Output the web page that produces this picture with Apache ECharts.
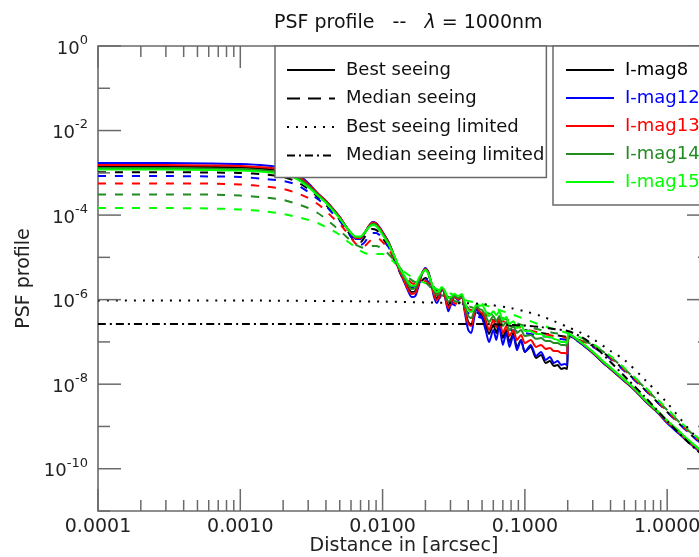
<!DOCTYPE html>
<html><head><meta charset="utf-8">
<script src="https://cdn.jsdelivr.net/npm/echarts/dist/echarts.min.js"></script>
<style>html,body{margin:0;padding:0;background:#fff;overflow:hidden}#c{width:699px;height:557px}</style>
</head><body><div id="c"></div>
<script>
// ---- data (distance in arcsec, PSF profile values) ----
const xBest = [0.0001,0.0003,0.0006,0.001,0.0015,0.002,0.0025,0.003,0.0035,0.004,0.0045,0.005,0.0055,0.006,0.0065,0.007,0.0075,0.008,0.0085,0.009,0.0095,0.010,
0.011,0.012,0.013,0.014,0.015,0.016,0.017,0.018,0.019,0.020,0.021,0.022,0.023,0.024,0.025,0.026,0.027,0.028,0.029,0.030,
0.032,0.034,0.036,0.038,0.040,0.042,0.044,0.046,0.048,0.050,
0.053,0.056,0.060,0.063,0.066,0.070,0.074,0.078,0.083,0.088,0.094,0.100,
0.11,0.12,0.13,0.14,0.15,0.16,0.17,0.18,0.19,0.198,0.202,
0.22,0.25,0.3,0.35,0.4,0.5,0.6,0.7,0.85,1.0,1.2,1.4,1.7,2.0];

const bestMag8 = [1.41e-3,1.41e-3,1.37e-3,1.33e-3,1.23e-3,1.10e-3,8.2e-4,5.3e-4,3.16e-4,2.10e-4,
1.36e-4,8.8e-5,5.5e-5,3.78e-5,2.96e-5,2.96e-5,3.88e-5,5.4e-5,6.5e-5,6.2e-5,
4.96e-5,3.78e-5,2.3e-5,1.14e-5,5.6e-6,3.25e-6,1.99e-6,1.51e-6,1.60e-6,2.61e-6,
4.26e-6,5.3e-6,4.26e-6,2.47e-6,1.43e-6,1.09e-6,1.28e-6,1.88e-6,1.60e-6,9.8e-7,
7.1e-7,8.8e-7,1.22e-6,1.03e-6,1.22e-6,5.7e-7,2.96e-7,2.51e-7,4.57e-7,6.7e-7,
5.1e-7,4.33e-7,2.51e-7,1.54e-7,2.51e-7,1.62e-7,2.96e-7,1.24e-7,1.91e-7,9.9e-8,
1.62e-7,7.6e-8,1.11e-7,5.8e-8,7.6e-8,4.16e-8,4.9e-8,3.17e-8,3.54e-8,2.7e-8,
2.85e-8,2.29e-8,2.41e-8,2.29e-8,1.46e-7,1.27e-7,9.2e-8,5.5e-8,3.35e-8,2.29e-8,
1.19e-8,6.9e-9,4.0e-9,2.2e-9,1.27e-9,7.4e-10,4.5e-10,2.6e-10,1.7e-10];

const bestMag12 = [1.7e-3,1.7e-3,1.66e-3,1.61e-3,1.49e-3,1.30e-3,9.4e-4,5.75e-4,3.3e-4,2.15e-4,
1.39e-4,9.0e-5,5.5e-5,3.6e-5,2.72e-5,2.72e-5,3.78e-5,5.5e-5,6.9e-5,6.5e-5,
5.2e-5,4.0e-5,2.3e-5,1.08e-5,5.3e-6,2.9e-6,1.69e-6,1.15e-6,1.22e-6,2.2e-6,
4.26e-6,5.6e-6,4.5e-6,2.34e-6,1.15e-6,8.3e-7,1.09e-6,1.78e-6,1.51e-6,8.3e-7,
5.3e-7,7.1e-7,1.15e-6,9.8e-7,1.15e-6,4.57e-7,1.91e-7,1.62e-7,3.68e-7,6.3e-7,
4.33e-7,3.68e-7,1.91e-7,9.9e-8,1.91e-7,1.11e-7,2.38e-7,8.5e-8,1.62e-7,7.6e-8,
1.46e-7,6.4e-8,1.11e-7,5.8e-8,8.5e-8,4.65e-8,5.8e-8,3.74e-8,4.4e-8,3.17e-8,
3.54e-8,2.85e-8,3.0e-8,2.85e-8,1.38e-7,1.24e-7,8.9e-8,5.5e-8,3.35e-8,2.29e-8,
1.19e-8,6.9e-9,4.0e-9,2.2e-9,1.2e-9,6.9e-10,4.3e-10,2.5e-10,1.6e-10];

const bestMag13 = [1.53e-3,1.53e-3,1.49e-3,1.45e-3,1.33e-3,1.17e-3,8.7e-4,5.4e-4,3.25e-4,2.15e-4,
1.39e-4,9.0e-5,5.5e-5,3.68e-5,2.88e-5,2.88e-5,3.88e-5,5.5e-5,6.7e-5,6.3e-5,
5.1e-5,3.88e-5,2.3e-5,1.11e-5,5.4e-6,3.07e-6,1.83e-6,1.36e-6,1.43e-6,2.47e-6,
4.26e-6,5.3e-6,4.26e-6,2.34e-6,1.28e-6,9.8e-7,1.22e-6,1.88e-6,1.56e-6,8.8e-7,
6.3e-7,7.9e-7,1.15e-6,1.03e-6,1.15e-6,5.1e-7,2.65e-7,2.38e-7,4.57e-7,7.1e-7,
5.3e-7,4.8e-7,3.29e-7,1.91e-7,3.29e-7,2.25e-7,3.68e-7,1.62e-7,2.38e-7,1.38e-7,
1.91e-7,1.11e-7,1.46e-7,9.4e-8,1.11e-7,7.6e-8,8.5e-8,6.8e-8,7.2e-8,6.1e-8,
6.1e-8,5.5e-8,5.5e-8,5.2e-8,1.50e-7,1.30e-7,9.4e-8,5.6e-8,3.42e-8,2.35e-8,
1.22e-8,7.1e-9,4.1e-9,2.25e-9,1.27e-9,7.4e-10,4.5e-10,2.6e-10,1.7e-10];

const bestMag14 = [1.30e-3,1.30e-3,1.26e-3,1.23e-3,1.13e-3,1.02e-3,7.8e-4,5.0e-4,3.07e-4,2.04e-4,
1.32e-4,8.5e-5,5.5e-5,3.78e-5,3.04e-5,3.04e-5,3.88e-5,5.2e-5,6.2e-5,5.8e-5,
4.7e-5,3.6e-5,2.19e-5,1.14e-5,5.9e-6,3.62e-6,2.34e-6,1.78e-6,1.88e-6,2.9e-6,
4.26e-6,5.0e-6,4.04e-6,2.47e-6,1.60e-6,1.28e-6,1.43e-6,1.88e-6,1.69e-6,1.15e-6,
8.8e-7,9.8e-7,1.22e-6,1.09e-6,1.22e-6,6.7e-7,4.1e-7,3.68e-7,5.3e-7,7.1e-7,
6.0e-7,5.7e-7,4.1e-7,2.96e-7,4.1e-7,3.1e-7,4.1e-7,2.38e-7,2.96e-7,1.91e-7,
2.38e-7,1.62e-7,1.91e-7,1.38e-7,1.46e-7,1.18e-7,1.24e-7,1.05e-7,1.05e-7,9.4e-8,
9.4e-8,8.5e-8,8.5e-8,8.0e-8,1.54e-7,1.30e-7,9.4e-8,5.8e-8,3.54e-8,2.41e-8,
1.26e-8,7.3e-9,4.2e-9,2.3e-9,1.34e-9,7.8e-10,4.8e-10,2.77e-10,1.79e-10];

const bestMag15 = [1.20e-3,1.20e-3,1.17e-3,1.13e-3,1.04e-3,9.4e-4,7.1e-4,4.6e-4,2.9e-4,1.94e-4,
1.25e-4,8.3e-5,5.4e-5,3.78e-5,3.1e-5,3.1e-5,3.88e-5,5.1e-5,5.8e-5,5.5e-5,
4.45e-5,3.39e-5,2.07e-5,1.14e-5,6.2e-6,4.04e-6,2.75e-6,2.1e-6,2.2e-6,3.25e-6,
4.26e-6,5.0e-6,4.04e-6,2.61e-6,1.78e-6,1.51e-6,1.60e-6,1.99e-6,1.78e-6,1.36e-6,
1.09e-6,1.15e-6,1.36e-6,1.22e-6,1.36e-6,8.3e-7,5.7e-7,5.1e-7,6.3e-7,7.9e-7,
7.1e-7,7.4e-7,5.3e-7,4.1e-7,5.3e-7,4.33e-7,5.3e-7,3.29e-7,3.88e-7,2.65e-7,
3.1e-7,2.13e-7,2.38e-7,1.81e-7,1.81e-7,1.54e-7,1.54e-7,1.30e-7,1.30e-7,1.18e-7,
1.11e-7,9.9e-8,9.9e-8,9.4e-8,1.58e-7,1.34e-7,9.7e-8,5.9e-8,3.64e-8,2.48e-8,
1.29e-8,7.4e-9,4.3e-9,2.38e-9,1.38e-9,8.0e-10,4.9e-10,2.85e-10,1.84e-10];

const xMedian = [0.0001,0.0003,0.0006,0.001,0.0015,0.002,0.0025,0.003,0.0035,0.004,0.0045,0.005,0.0055,0.006,0.0065,0.007,0.0075,0.008,0.0085,0.009,0.0095,0.010,
0.011,0.012,0.013,0.014,0.016,0.018,0.020,0.022,0.025,0.028,
0.032,0.036,0.040,0.050,0.060,0.080,0.10,0.13,0.16,0.20,
0.25,0.30,0.40,0.50,0.70,1.0,1.4,2.0];

const medianMag8 = [1.03e-3,1.03e-3,1.02e-3,9.9e-4,9.1e-4,8.0e-4,6.1e-4,4.14e-4,2.69e-4,1.73e-4,
1.18e-4,7.7e-5,4.96e-5,3.21e-5,2.44e-5,2.3e-5,3.04e-5,4.22e-5,4.7e-5,4.45e-5,
3.78e-5,2.88e-5,1.76e-5,9.1e-6,5.0e-6,3.07e-6,1.99e-6,2.34e-6,3.25e-6,2.34e-6,
1.43e-6,1.22e-6,9.8e-7,8.3e-7,6.3e-7,4.33e-7,3.29e-7,2.38e-7,1.91e-7,1.62e-7,
1.46e-7,1.30e-7,1.05e-7,8.0e-8,4.16e-8,2.17e-8,7.3e-9,2.2e-9,7.4e-10,2.5e-10];

const medianMag12 = [8.4e-4,8.4e-4,8.2e-4,8.0e-4,7.1e-4,6.4e-4,5.2e-4,3.52e-4,2.4e-4,1.64e-4,
1.06e-4,7.3e-5,4.7e-5,3.04e-5,2.19e-5,1.97e-5,2.3e-5,3.21e-5,3.78e-5,3.78e-5,
3.39e-5,2.72e-5,1.76e-5,1.02e-5,5.6e-6,3.42e-6,1.99e-6,2.34e-6,3.07e-6,1.99e-6,
1.15e-6,9.8e-7,7.4e-7,7.1e-7,4.8e-7,3.68e-7,2.8e-7,1.91e-7,1.62e-7,1.38e-7,
1.24e-7,1.11e-7,9.9e-8,7.6e-8,3.95e-8,2.05e-8,7.3e-9,2.2e-9,7.4e-10,2.6e-10];

const medianMag13 = [5.6e-4,5.6e-4,5.55e-4,5.3e-4,4.75e-4,4.14e-4,3.3e-4,2.54e-4,1.83e-4,1.25e-4,
8.5e-5,6.2e-5,4.22e-5,2.88e-5,2.07e-5,1.76e-5,1.86e-5,2.3e-5,2.72e-5,2.88e-5,
2.72e-5,2.3e-5,1.58e-5,9.6e-6,6.2e-6,4.04e-6,2.47e-6,2.34e-6,2.75e-6,1.88e-6,
1.22e-6,1.03e-6,8.3e-7,7.4e-7,6.0e-7,4.8e-7,3.68e-7,2.65e-7,2.01e-7,1.62e-7,
1.38e-7,1.24e-7,1.05e-7,8.0e-8,4.16e-8,2.17e-8,7.7e-9,2.3e-9,7.8e-10,2.77e-10];

const medianMag14 = [3.07e-4,3.07e-4,3.05e-4,2.9e-4,2.6e-4,2.28e-4,1.83e-4,1.47e-4,1.12e-4,8.1e-5,
5.8e-5,4.22e-5,3.21e-5,2.44e-5,1.97e-5,1.76e-5,1.67e-5,1.76e-5,1.86e-5,1.86e-5,
1.76e-5,1.58e-5,1.2e-5,8.6e-6,6.2e-6,4.5e-6,2.9e-6,2.47e-6,2.47e-6,1.88e-6,
1.36e-6,1.15e-6,9.3e-7,8.3e-7,7.1e-7,5.3e-7,4.33e-7,3.1e-7,2.38e-7,1.91e-7,
1.62e-7,1.46e-7,1.11e-7,8.5e-8,4.4e-8,2.29e-8,8.1e-9,2.44e-9,8.2e-10,2.93e-10];

const medianMag15 = [1.47e-4,1.47e-4,1.43e-4,1.36e-4,1.22e-4,1.06e-4,9.0e-5,7.7e-5,6.5e-5,5.2e-5,
4.22e-5,3.39e-5,2.58e-5,2.07e-5,1.67e-5,1.42e-5,1.27e-5,1.2e-5,1.2e-5,1.2e-5,
1.2e-5,1.2e-5,1.02e-5,7.8e-6,5.9e-6,4.75e-6,3.42e-6,2.75e-6,2.47e-6,2.1e-6,
1.69e-6,1.51e-6,1.28e-6,1.09e-6,9.3e-7,7.9e-7,6.3e-7,4.57e-7,3.47e-7,2.51e-7,
2.01e-7,1.62e-7,1.24e-7,8.9e-8,4.65e-8,2.41e-8,8.5e-9,2.58e-9,8.7e-10,3.0e-10];

const xLimited = [0.0001,0.001,0.01,0.03,0.05,0.08,0.10,0.13,0.16,0.20,0.25,0.30,0.40,0.50,0.70,1.0,1.4,2.0];
const bestLimited = [9.5e-7,9.5e-7,9.0e-7,8.3e-7,7.9e-7,6.3e-7,5.3e-7,4.1e-7,3.1e-7,2.25e-7,1.62e-7,1.18e-7,6.1e-8,3.74e-8,1.26e-8,3.6e-9,9.2e-10,2.5e-10];
const medianLimited = [2.65e-7,2.65e-7,2.65e-7,2.65e-7,2.65e-7,2.51e-7,2.44e-7,2.25e-7,2.01e-7,1.81e-7,1.30e-7,8.5e-8,3.35e-8,1.56e-8,4.96e-9,1.34e-9,4.3e-10,1.43e-10];

const magNames = ['I-mag8','I-mag12','I-mag13','I-mag14','I-mag15'];
const styleNames = ['Best seeing','Median seeing','Best seeing limited','Median seeing limited'];
const xTickExp = [-4,-3,-2,-1,0];               // decades labelled on the x axis
const yTickExp = [0,-2,-4,-6,-8,-10];           // decades labelled on the y axis
const xTickMajor = [1e-4,1e-3,1e-2,1e-1,1];
const xTickMinor = [2e-4,3e-4,4e-4,5e-4,6e-4,7e-4,8e-4,9e-4,2e-3,3e-3,4e-3,5e-3,6e-3,7e-3,8e-3,9e-3,
  2e-2,3e-2,4e-2,5e-2,6e-2,7e-2,8e-2,9e-2,0.2,0.3,0.4,0.5,0.6,0.7,0.8,0.9,2];
const yTickMajor = [1,1e-2,1e-4,1e-6,1e-8,1e-10];
const yTickMinor = [1e-1,1e-3,1e-5,1e-7,1e-9,1e-11];

// ---- chart ----
const colors = ['#000000','#0000ff','#ff0000','#228b22','#00ff00'];
const FONT = 'DejaVu Sans';
const AXC = '#6a6a6a';
const pair = (xs, ys) => xs.map((x, i) => [x, ys[i]]);
const bests = [bestMag8, bestMag12, bestMag13, bestMag14, bestMag15];
const medians = [medianMag8, medianMag12, medianMag13, medianMag14, medianMag15];
const DASH = [8, 9], DOT = [2, 7], DASHDOT = [8, 4, 2, 4];

const series = [];
medians.forEach((arr, i) => series.push({
  name: magNames[i] + ' median', type: 'line', data: pair(xMedian, arr), symbol: 'none',
  smooth: 0.3, lineStyle: { color: colors[i], width: 2, type: DASH }, itemStyle: { color: colors[i] }, z: 2
}));
bests.forEach((arr, i) => series.push({
  name: magNames[i], type: 'line', data: pair(xBest, arr), symbol: 'none',
  smooth: 0.25, lineStyle: { color: colors[i], width: 2 }, itemStyle: { color: colors[i] }, z: 3
}));
series.push({ name: 'Best seeing limited', type: 'line', data: pair(xLimited, bestLimited), symbol: 'none',
  smooth: 0.3, lineStyle: { color: '#000', width: 2, type: DOT }, itemStyle: { color: '#000' }, z: 4 });
series.push({ name: 'Median seeing limited', type: 'line', data: pair(xLimited, medianLimited), symbol: 'none',
  smooth: 0.3, lineStyle: { color: '#000', width: 2, type: DASHDOT }, itemStyle: { color: '#000' }, z: 4 });
series.push({ name: 'Best seeing', type: 'line', data: [], symbol: 'none',
  lineStyle: { color: '#000', width: 2.5 }, itemStyle: { color: '#000' } });
series.push({ name: 'Median seeing', type: 'line', data: [], symbol: 'none',
  lineStyle: { color: '#000', width: 2.5, type: [13, 8] }, itemStyle: { color: '#000' } });

const tickStyle = { stroke: AXC, lineWidth: 1.5 };
series.push({
  type: 'custom', silent: true, clip: false, z: 6, xAxisIndex: 0, yAxisIndex: 0,
  data: xTickMajor.map(v => [v, 1e-5, 22]).concat(xTickMinor.map(v => [v, 1e-5, 11])),
  encode: { x: 0, y: 1 },
  renderItem: (params, api) => {
    const cs = params.coordSys;
    const x = api.coord([api.value(0), 1e-5])[0];
    const len = api.value(2);
    const b = cs.y + cs.height;
    return { type: 'group', children: [
      { type: 'line', shape: { x1: x, y1: b, x2: x, y2: b - len }, style: tickStyle },
      { type: 'line', shape: { x1: x, y1: cs.y, x2: x, y2: cs.y + len }, style: tickStyle }
    ] };
  }
});
series.push({
  type: 'custom', silent: true, clip: false, z: 6, xAxisIndex: 0, yAxisIndex: 0,
  data: yTickMajor.map(v => [0.01, v, 23]).concat(yTickMinor.map(v => [0.01, v, 12])),
  encode: { x: 0, y: 1 },
  renderItem: (params, api) => {
    const cs = params.coordSys;
    const y = api.coord([0.01, api.value(1)])[1];
    const len = api.value(2);
    const r = cs.x + cs.width;
    return { type: 'group', children: [
      { type: 'line', shape: { x1: cs.x, y1: y, x2: cs.x + len, y2: y }, style: tickStyle },
      { type: 'line', shape: { x1: r, y1: y, x2: r - len, y2: y }, style: tickStyle }
    ] };
  }
});

const isInt = e => Math.abs(e - Math.round(e)) < 1e-7;
const option = {
  animation: false,
  backgroundColor: '#fff',
  title: {
    text: '{n|PSF profile   --   }{l|λ}{n| = 1000nm}',
    left: 269, top: 9,
    textStyle: { fontWeight: 'normal', rich: {
      n: { fontFamily: FONT, fontSize: 19, color: '#111', fontWeight: 'normal' },
      l: { fontFamily: FONT, fontSize: 19, color: '#111', fontStyle: 'italic', fontWeight: 'normal' }
    } }
  },
  grid: { left: 98, top: 46, width: 612, height: 465, show: true, borderColor: AXC, borderWidth: 1.6,
          containLabel: false, outerBoundsMode: 'none' },
  xAxis: [
    { type: 'log', logBase: 10, min: 1e-4, max: 2, show: false, gridIndex: 0 },
    { type: 'value', min: -4, max: Math.log10(2), interval: 1, position: 'bottom', gridIndex: 0,
      axisLine: { show: false }, axisTick: { show: false }, splitLine: { show: false },
      axisLabel: { margin: 7, color: '#222', fontFamily: FONT, fontSize: 19,
        formatter: e => (isInt(e) && xTickExp.includes(Math.round(e))) ? Math.pow(10, Math.round(e)).toFixed(4) : '' },
      name: 'Distance in [arcsec]', nameLocation: 'middle', nameGap: 26, nameMoveOverlap: false,
      nameTextStyle: { color: '#222', fontFamily: FONT, fontSize: 19 } }
  ],
  yAxis: [
    { type: 'log', logBase: 10, min: 1e-11, max: 1, show: false, gridIndex: 0 },
    { type: 'value', min: -11, max: 0, interval: 1, position: 'left', gridIndex: 0,
      axisLine: { show: false }, axisTick: { show: false }, splitLine: { show: false },
      axisLabel: { margin: 10, color: '#222',
        formatter: e => { const k = Math.round(e); return yTickExp.includes(k) ? '{b|10}{s|' + k + '}' : ''; },
        rich: {
          b: { fontFamily: FONT, fontSize: 18, color: '#222', lineHeight: 24, verticalAlign: 'bottom' },
          s: { fontFamily: FONT, fontSize: 13, color: '#222', lineHeight: 14, verticalAlign: 'top' }
        } },
      name: 'PSF profile', nameLocation: 'middle', nameGap: 64, nameRotate: 90, nameMoveOverlap: false,
      nameTextStyle: { color: '#222', fontFamily: FONT, fontSize: 19 } }
  ],
  legend: [
    { orient: 'vertical', left: 275, top: 46, z: 20, selectedMode: false,
      padding: [15, 2, 13, 11], itemGap: 10.5, itemWidth: 48, itemHeight: 14,
      itemStyle: { opacity: 0 },
      backgroundColor: '#fff', borderColor: AXC, borderWidth: 1.5,
      textStyle: { fontFamily: FONT, fontSize: 18, color: '#111', lineHeight: 18, padding: [0, 0, 0, 6] },
      data: styleNames.map(n => ({ name: n })) },
    { orient: 'vertical', left: 553, top: 46, z: 20, selectedMode: false,
      padding: [15, 40, 14, 12], itemGap: 10, itemWidth: 48, itemHeight: 14,
      itemStyle: { opacity: 0 },
      backgroundColor: '#fff', borderColor: AXC, borderWidth: 1.5,
      textStyle: { fontFamily: FONT, fontSize: 18, lineHeight: 18, padding: [0, 0, 0, 6] },
      data: magNames.map((n, i) => ({ name: n, textStyle: { color: colors[i] } })) }
  ],
  series: series
};
const chart = echarts.init(document.getElementById('c'), null, { renderer: 'canvas' });
chart.setOption(option);
</script></body></html>
